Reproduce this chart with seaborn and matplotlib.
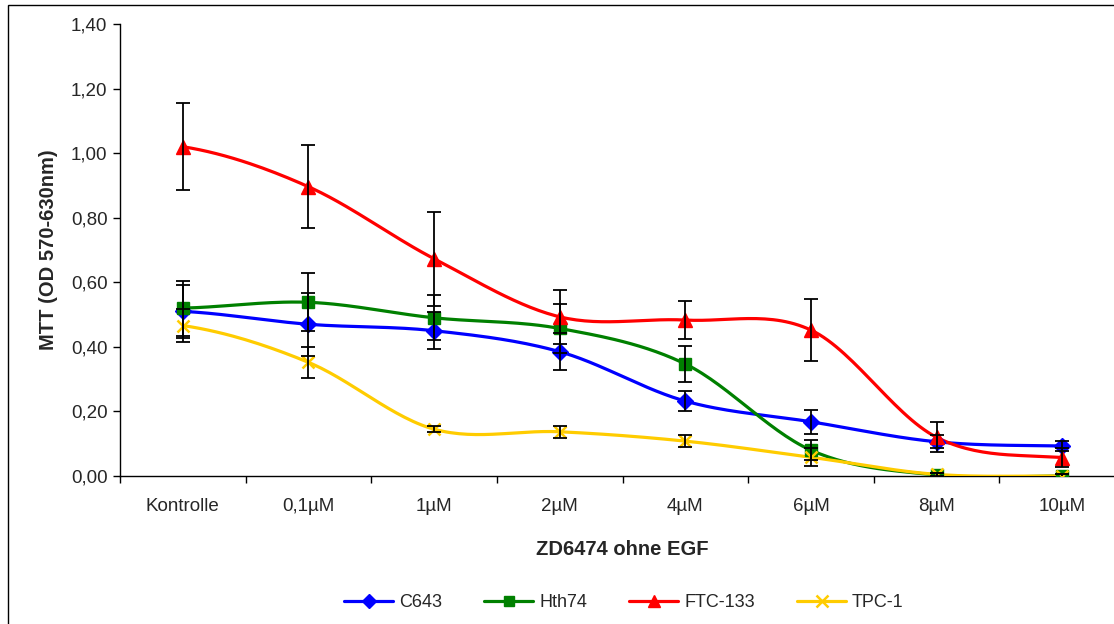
import numpy as np
import pandas as pd
import matplotlib
matplotlib.use("Agg")
import matplotlib.pyplot as plt
from matplotlib.lines import Line2D
from matplotlib.patches import Rectangle
from matplotlib.ticker import FuncFormatter, FixedLocator
import seaborn as sns

categories = ["Kontrolle", "0,1µM", "1µM", "2µM", "4µM", "6µM", "8µM", "10µM"]
series_names = ["C643", "Hth74", "FTC-133", "TPC-1"]
c643 = [0.51, 0.47, 0.45, 0.385, 0.232, 0.168, 0.106, 0.093]
c643_err = [0.083, 0.098, 0.057, 0.058, 0.03, 0.037, 0.02, 0.015]
hth74 = [0.52, 0.538, 0.49, 0.457, 0.347, 0.08, 0.003, 0.0]
hth74_err = [0.085, 0.09, 0.07, 0.075, 0.055, 0.03, 0.005, 0.005]
ftc133 = [1.02, 0.896, 0.673, 0.493, 0.483, 0.452, 0.12, 0.057]
ftc133_err = [0.134, 0.128, 0.145, 0.083, 0.058, 0.095, 0.047, 0.03]
tpc1 = [0.466, 0.352, 0.145, 0.137, 0.108, 0.058, 0.005, 0.0]
tpc1_err = [0.05, 0.049, 0.01, 0.018, 0.018, 0.028, 0.005, 0.005]
yticks = [0.0, 0.2, 0.4, 0.6, 0.8, 1.0, 1.2, 1.4]

values = [c643, hth74, ftc133, tpc1]
errors = [c643_err, hth74_err, ftc133_err, tpc1_err]
colors = ["#0000FF", "#008000", "#FF0000", "#FFCC00"]
markers = ["D", "s", "^", "x"]
msizes = [8, 8, 10, 9]

sns.set_theme(style="white")
plt.rcParams["font.family"] = ["Liberation Sans", "DejaVu Sans"]


def smooth(y, n=30):
    y = np.asarray(y, float)
    p = np.concatenate([[y[0]], y, [y[-1]]])
    xs, ys = [], []
    for i in range(len(y) - 1):
        p0, p1, p2, p3 = p[i], p[i + 1], p[i + 2], p[i + 3]
        t = np.linspace(0, 1, n, endpoint=False)
        yy = 0.5 * (2 * p1 + (-p0 + p2) * t + (2 * p0 - 5 * p1 + 4 * p2 - p3) * t ** 2
                    + (-p0 + 3 * p1 - 3 * p2 + p3) * t ** 3)
        xs.append(i + t)
        ys.append(yy)
    xs.append([len(y) - 1])
    ys.append([y[-1]])
    return np.concatenate(xs), np.concatenate(ys)


rows = []
pts = []
for name, v, e in zip(series_names, values, errors):
    sx, sy = smooth(v)
    for a, b in zip(sx, sy):
        rows.append({"x": a, "y": b, "series": name})
    for i, (val, err) in enumerate(zip(v, e)):
        pts.append({"x": i, "y": val, "err": err, "series": name})
smooth_df = pd.DataFrame(rows)
pts_df = pd.DataFrame(pts)

fig = plt.figure(figsize=(11.14, 6.24), dpi=100)
ax = fig.add_axes([120 / 1114, 148 / 624, 1005 / 1114, 452 / 624])

sns.lineplot(data=smooth_df, x="x", y="y", hue="series", palette=colors,
             hue_order=series_names, linewidth=2.3, ax=ax, legend=False,
             estimator=None, sort=False, zorder=3)

for name, col, mk, ms in zip(series_names, colors, markers, msizes):
    d = pts_df[pts_df.series == name]
    if mk == "x":
        ax.plot(d.x, d.y, linestyle="none", marker=mk, color=col, ms=ms, mew=1.8, zorder=4)
    else:
        ax.plot(d.x, d.y, linestyle="none", marker=mk, color=col, ms=ms, mec=col, zorder=4)
    ax.errorbar(d.x, d.y, yerr=d.err, fmt="none", ecolor="black", elinewidth=1.3,
                capsize=5, capthick=1.3, zorder=5)

ax.set_xlim(-0.5, len(categories) - 0.5)
ax.set_ylim(0, 1.4)
ax.set_yticks(yticks)
ax.yaxis.set_major_formatter(FuncFormatter(lambda v, p: f"{v:.2f}".replace(".", ",")))
ax.set_xticks(range(len(categories)))
ax.set_xticklabels(categories)
ax.xaxis.set_minor_locator(FixedLocator(np.arange(-0.5, len(categories), 1.0)))
ax.tick_params(axis="x", which="major", length=0, pad=16, labelsize=13.5)
ax.tick_params(axis="x", which="minor", length=5, width=1, color="black", direction="out", bottom=True)
ax.tick_params(axis="y", which="major", length=5, width=1, color="black", direction="out",
               left=True, pad=4, labelsize=13.5)

for s in ["top", "right"]:
    ax.spines[s].set_visible(False)
for s in ["left", "bottom"]:
    ax.spines[s].set_color("black")
    ax.spines[s].set_linewidth(1)

ax.set_xlabel("ZD6474 ohne EGF", fontsize=14.5, fontweight="bold", labelpad=18)
ax.set_ylabel("MTT (OD 570-630nm)", fontsize=14.5, fontweight="bold", labelpad=9)
ax.grid(False)

handles = []
for name, col, mk, ms in zip(series_names, colors, markers, msizes):
    if mk == "x":
        h = Line2D([0], [0], color=col, lw=2.3, marker=mk, ms=ms - 1, mew=1.8)
    else:
        h = Line2D([0], [0], color=col, lw=2.3, marker=mk, ms=ms - 1, mec=col)
    handles.append(h)
fig.legend(handles, series_names, loc="center", bbox_to_anchor=(0.56, 0.034), ncol=4,
           frameon=False, fontsize=13, handlelength=2.7, columnspacing=2.35, handletextpad=0.33)

fig.add_artist(Rectangle((8 / 1114, -0.1), 1.2, 1.1 - 5 / 624, transform=fig.transFigure,
                         fill=False, edgecolor="black", linewidth=1, clip_on=False))

fig.savefig("out.png", dpi=100)
